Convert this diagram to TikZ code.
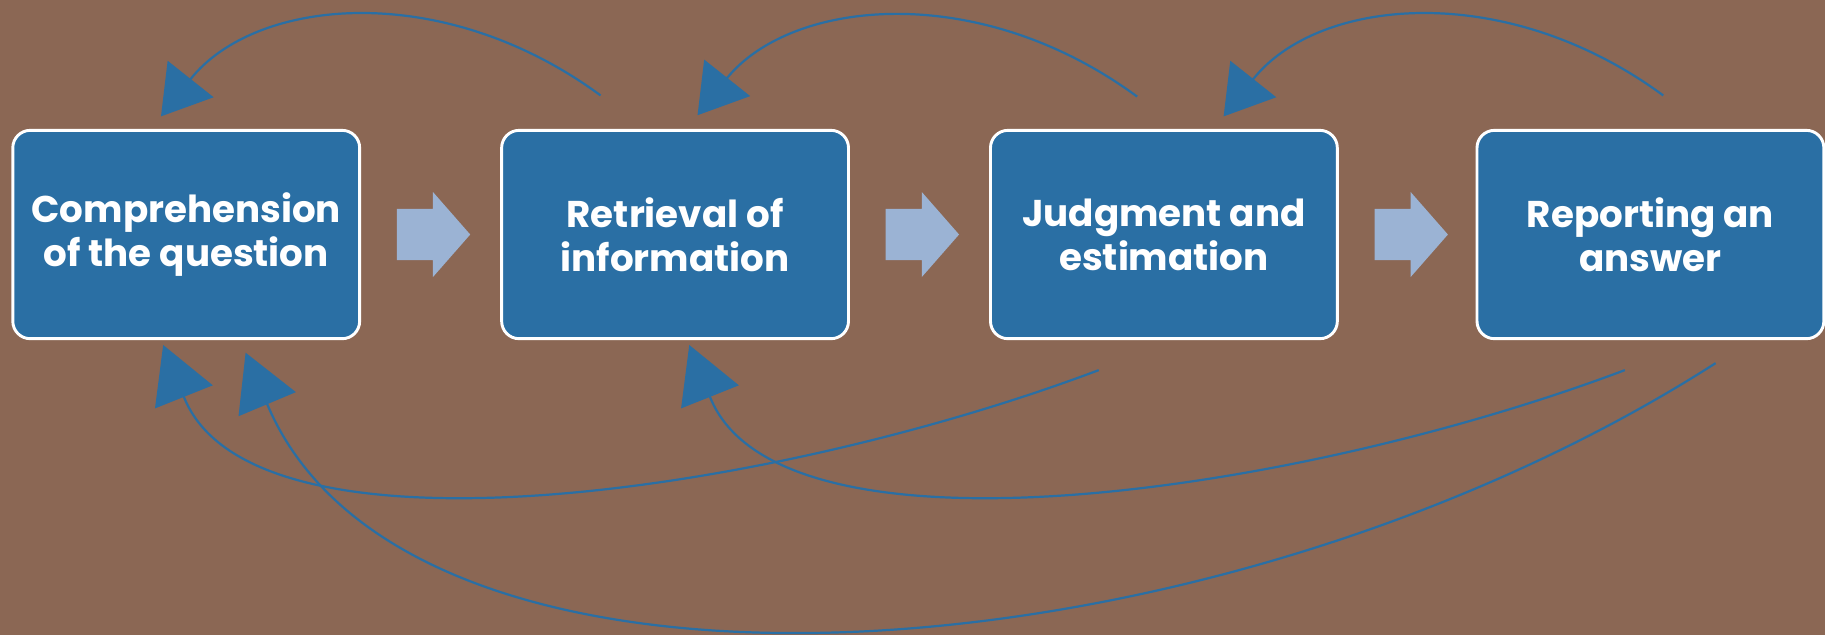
\documentclass[tikz,border=0pt]{standalone}
\usepackage{fontspec}
\setmainfont{Poppins}
\usetikzlibrary{arrows.meta,calc}
\definecolor{bgbrown}{RGB}{139,103,84}
\definecolor{boxblue}{RGB}{42,111,164}
\definecolor{blockfill}{RGB}{155,179,212}
\tikzset{
  stagebox/.style={draw=white, line width=2.5pt, fill=boxblue, rounded corners=15pt,
    minimum width=298pt, minimum height=179pt, text=white, align=center,
    font=\fontsize{32}{38}\selectfont\bfseries, inner sep=0pt},
  feedback/.style={draw=boxblue, line width=1.9pt},
  toptip/.style={-{Triangle[length=41pt,width=50pt]}},
  bottip/.style={-{Triangle[length=48pt,width=53pt]}},
  blockarrow/.pic={\fill[blockfill] (0,-22) -- (31,-22) -- (31,-36.5) -- (63,0) -- (31,36.5) -- (31,22) -- (0,22) -- cycle;}
}
\begin{document}
\begin{tikzpicture}[x=1pt,y=-1pt]
\useasboundingbox (0,0) rectangle (1568,545.6);
\fill[bgbrown] (0,0) rectangle (1568,545.6);

\node[stagebox] (b1) at (160,201.5) {Comprehension\\of the question};
\node[stagebox] (b2) at (580,201.5) {Retrieval of\\information};
\node[stagebox] (b3) at (1000,201.5) {Judgment and\\estimation};
\node[stagebox] (b4) at (1418,201.5) {Reporting an\\answer};

\pic (a1) at (341,201.5) {blockarrow};
\pic (a2) at (761,201.5) {blockarrow};
\pic (a3) at (1181,201.5) {blockarrow};

% top feedback arcs (start, base of arrowhead, tip)
\coordinate (t1s) at (516,82);   \coordinate (t1m) at (163.7,68);  \coordinate (t1e) at (138.3,100);
\coordinate (t2s) at (977,83);   \coordinate (t2m) at (624.7,67);  \coordinate (t2e) at (599.3,99);
\coordinate (t3s) at (1429,82);  \coordinate (t3m) at (1076.7,68); \coordinate (t3e) at (1051.3,100);
\draw[feedback,toptip] (t1s) .. controls (380,-18) and (219.5,-2.2) .. (t1m) -- (t1e);
\draw[feedback,toptip] (t2s) .. controls (841,-17) and (680.5,-1.2) .. (t2m) -- (t2e);
\draw[feedback,toptip] (t3s) .. controls (1293,-18) and (1132.5,-2.2) .. (t3m) -- (t3e);

% bottom feedback arcs
\coordinate (uAs) at (944,318);  \coordinate (uAm) at (158,341);   \coordinate (uAe) at (140.2,296.4);
\coordinate (uCs) at (1396,318); \coordinate (uCm) at (610,341);   \coordinate (uCe) at (592.2,296.4);
\coordinate (uBs) at (1474,312); \coordinate (uBm) at (229.6,347.3); \coordinate (uBe) at (211,303);
\draw[feedback,bottip] (uAs) .. controls (660,425) and (217,489.6) .. (uAm) -- (uAe);
\draw[feedback,bottip] (uCs) .. controls (1112,425) and (669,489.6) .. (uCm) -- (uCe);
\draw[feedback,bottip] (uBs) .. controls (1040,590) and (351.8,637.7) .. (uBm) -- (uBe);
\end{tikzpicture}
\end{document}
